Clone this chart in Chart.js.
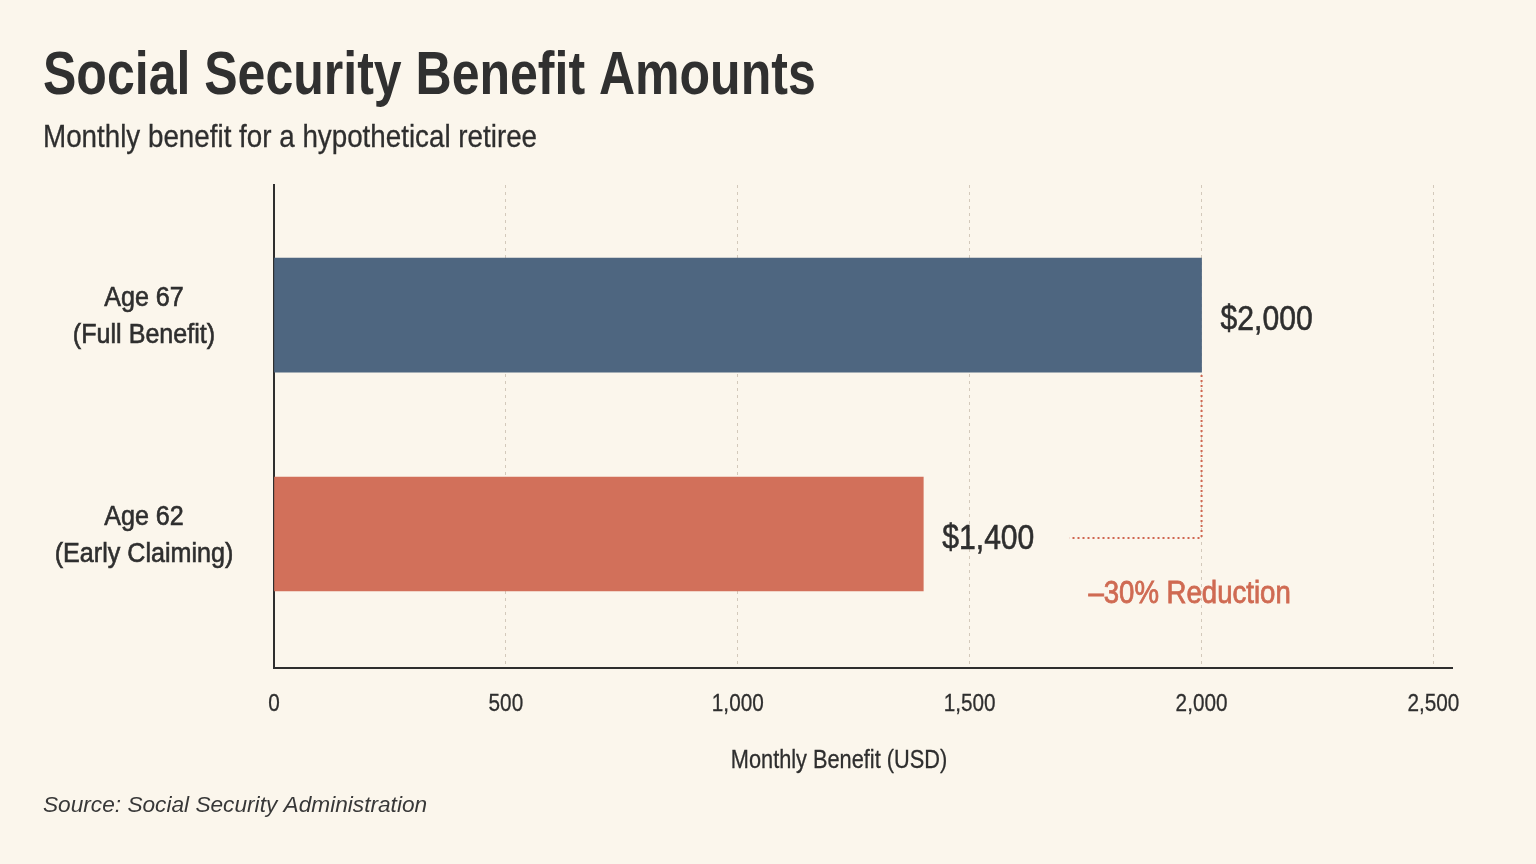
<!DOCTYPE html>
<html>
<head>
<meta charset="utf-8">
<script src="https://cdn.jsdelivr.net/npm/chart.js@4.4.1/dist/chart.umd.min.js"></script>
<style>
  html, body { margin: 0; padding: 0; background: #fbf6ec; }
  #chart { display: block; }
</style>
</head>
<body>
<canvas id="chart" width="1536" height="864"></canvas>
<script>
// données du graphique
const categories = [['Age 67', '(Full Benefit)'], ['Age 62', '(Early Claiming)']];
const benefits = [2000, 1400];
const valueLabels = ['$2,000', '$1,400'];
const barColors = ['#4e6680', '#d2705a'];
const xTicks = [0, 500, 1000, 1500, 2000, 2500];
const reductionLabel = '\u201330% Reduction';

const title = 'Social Security Benefit Amounts';
const subtitle = 'Monthly benefit for a hypothetical retiree';
const xTitle = 'Monthly Benefit (USD)';
const source = 'Source: Social Security Administration';

const ink = '#2e2e2e';
const accent = '#cf6650';

// texte "étroit" : Liberation Sans compressé horizontalement
function drawText(c, str, x, y, o) {
    c.save();
    c.font = (o.style || '') + ' ' + (o.weight || 'normal') + ' ' + o.size + 'px "Liberation Sans", Arial, sans-serif';
    c.fillStyle = o.color || ink;
    c.textBaseline = 'alphabetic';
    c.textAlign = o.align || 'left';
    c.translate(x, y);
    c.scale(o.sx || 1, 1);
    if (o.stroke) {
        c.strokeStyle = o.color || ink;
        c.lineWidth = o.stroke;
        c.strokeText(str, 0, 0);
    }
    c.fillText(str, 0, 0);
    c.restore();
}

const textPlugin = {
    id: 'texts',
    afterDraw(chart) {
        const c = chart.ctx;
        const area = chart.chartArea;
        const x = chart.scales.x, y = chart.scales.y;

        drawText(c, title, 43, 94, { size: 61, weight: 'bold', sx: 0.82, color: '#303030' });
        drawText(c, subtitle, 43, 147, { size: 32, sx: 0.868, stroke: 0.3 });

        // étiquettes de catégories
        categories.forEach((lines, i) => {
            const cy = y.getPixelForValue(i);
            drawText(c, lines[0], area.left - 130, cy - 9, { size: 27, sx: 0.93, align: 'center', stroke: 0.6 });
            drawText(c, lines[1], area.left - 130, cy + 28, { size: 27, sx: 0.93, align: 'center', stroke: 0.6 });
        });

        // graduations de l'axe x
        xTicks.forEach(v => {
            drawText(c, v.toLocaleString('en-US'), x.getPixelForValue(v), area.bottom + 43,
                { size: 24.7, sx: 0.84, align: 'center', stroke: 0.3 });
        });
        drawText(c, xTitle, (area.left + area.right) / 2 - 24, area.bottom + 100,
            { size: 25, sx: 0.87, align: 'center', stroke: 0.3 });

        drawText(c, source, 43, 812, { size: 22, style: 'italic', sx: 1.03, color: '#383838' });
    },
    afterDatasetsDraw(chart) {
        const c = chart.ctx;
        const bars = chart.getDatasetMeta(0).data;
        const x = chart.scales.x;

        bars.forEach((b, i) => drawText(c, valueLabels[i], b.x + 19, b.y + 15,
            { size: 35, sx: 0.86, stroke: 0.6 }));

        // lignes pointillées entre les deux barres
        const top = bars[0], low = bars[1];
        const xr = x.getPixelForValue(benefits[0]);
        c.save();
        c.font = '35px "Liberation Sans", Arial, sans-serif';
        const lblEnd = low.x + 19 + c.measureText(valueLabels[1]).width * 0.86 + 35;
        c.strokeStyle = accent;
        c.lineWidth = 2;
        c.setLineDash([2, 3]);
        c.beginPath();
        c.moveTo(xr, top.y + top.height / 2 + 3);
        c.lineTo(xr, low.y + 4);
        c.lineTo(lblEnd, low.y + 4);
        c.stroke();
        c.restore();

        drawText(c, reductionLabel, xr - 12, low.y + 69,
            { size: 31.7, sx: 0.87, align: 'center', color: '#cf6a52', stroke: 0.8 });
    }
};

new Chart(document.getElementById('chart'), {
    type: 'bar',
    data: {
        datasets: [{
            data: benefits.map((v, i) => ({ x: v, y: i })),
            backgroundColor: barColors,
            borderWidth: 0,
            barThickness: 114
        }]
    },
    options: {
        indexAxis: 'y',
        responsive: false,
        animation: false,
        layout: { padding: { top: 185, right: 84, bottom: 86, left: 0 } },
        plugins: { legend: { display: false }, tooltip: { enabled: false } },
        scales: {
            x: {
                type: 'linear',
                min: 0,
                max: 2540,
                afterBuildTicks: s => { s.ticks = xTicks.map(v => ({ value: v })); },
                afterFit: s => { s.height = 110; },
                grid: {
                    drawTicks: false,
                    color: ctx => ctx.tick && ctx.tick.value === 0 ? 'rgba(0,0,0,0)' : '#d3c9bb',
                    lineWidth: 1
                },
                border: { display: true, color: '#2e2e2e', width: 2, dash: [3, 4] },
                ticks: { display: false }
            },
            y: {
                type: 'linear',
                offset: false,
                reverse: true,
                min: -0.594,
                max: 1.612,
                afterBuildTicks: s => { s.ticks = categories.map((c, i) => ({ value: i })); },
                afterFit: s => { s.width = 274; },
                grid: { display: false, drawTicks: false },
                border: { display: true, color: '#2e2e2e', width: 2 },
                ticks: { display: false }
            }
        }
    },
    plugins: [textPlugin]
});
</script>
</body>
</html>
